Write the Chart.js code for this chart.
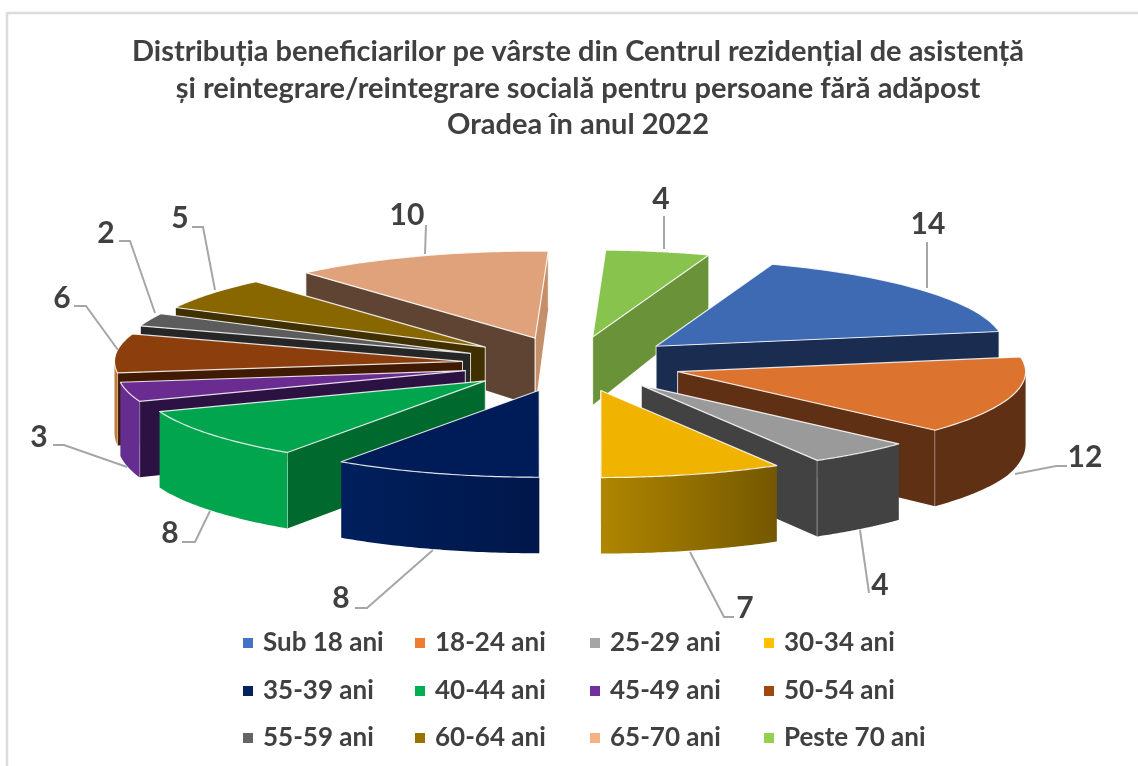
<!DOCTYPE html>
<html><head><meta charset="utf-8">
<style>html,body{margin:0;padding:0;background:#fff}#w{width:1138px;height:766px;position:relative}</style>
<script src="https://cdn.jsdelivr.net/npm/chart.js@4"></script></head>
<body><div id="w"><canvas id="c" width="1138" height="766"></canvas></div>
<script>
const categories=['Sub 18 ani','18-24 ani','25-29 ani','30-34 ani','35-39 ani','40-44 ani','45-49 ani','50-54 ani','55-59 ani','60-64 ani','65-70 ani','Peste 70 ani'];
const values=[14,12,4,7,8,8,3,6,2,5,10,4];
const titleLines=['Distribuția beneficiarilor pe vârste din Centrul rezidențial de asistență','și reintegrare/reintegrare socială pentru persoane fără adăpost','Oradea în anul 2022'];
const topColors=['#3E6AB3','#DC742F','#9A9A9A','#EFB300','#001C58','#00A54E','#6A2C91','#8C3F0D','#5C5C5C','#886600','#E0A27A','#88C34D'];
const legendColors=['#4472C4','#ED7D31','#A5A5A5','#FFC000','#002060','#00B050','#7030A0','#9E480E','#636363','#997300','#F4B183','#92D050'];
const startFace=['#1A2C50','#5F3014','#424242','#424242','#001C58','#006A2E','#2C1143','#401A02','#262626','#403000','#5F4434','#6A9239'];
const endFace=['#1A2C50','#5F3014','#424242','#424242','#001C58','#006A2E','#2C1143','#401A02','#262626','#403000','#C58F69','#6A9239'];
const rimLeft=['#1A2C50','#5F3014','#424242','#B08600','#001F5C','#00A54E','#652D90','#C07A3A','#262626','#403000','#5F4434','#6A9239'];
const rimRight=['#1A2C50','#5F3014','#424242','#745800','#00174A','#00A54E','#652D90','#C07A3A','#262626','#403000','#5F4434','#6A9239'];
// label layout: number position + leader polyline, same order as categories
const labelLayout=[
 {t:[928,224],l:[[927,242],[927,288]]},
 {t:[1085,457],l:[[1067,466],[1056,466],[1015,474]]},
 {t:[880,585],l:[[869,593],[860,530]]},
 {t:[745,608],l:[[734,617],[724,617],[690,552]]},
 {t:[341,598],l:[[355,608],[367,608],[433,550]]},
 {t:[170,533],l:[[182,542],[195,542],[210,511]]},
 {t:[39,437],l:[[53,445],[64,445],[127,467]]},
 {t:[62,298],l:[[74,306],[86,306],[118,350]]},
 {t:[106,233],l:[[119,241],[130,241],[155,313]]},
 {t:[180,218],l:[[192,227],[203,227],[215,290]]},
 {t:[407,215],l:[[426,225],[425,254]]},
 {t:[661,199],l:[[664,216],[664,249]]}
];
const CX=572,CY=364,SQ=0.25,R=348,EXPLODE=110;
const legendX=[243,415,590,764],legendY=[643,691,738];
const depthAt=y=>57+19*Math.min(1,Math.max(0,(y-250)/150));
const FONT='Lato, Carlito, sans-serif';

const solidPie={
 id:'solidPie',
 beforeDatasetsDraw(chart){
  const ctx=chart.ctx,arcs=chart.getDatasetMeta(0).data;
  const items=arcs.map((arc,i)=>{
    const p=arc.getProps(['x','y','startAngle','endAngle','outerRadius'],true);
    return {arc,i,...p,mid:(p.startAngle+p.endAngle)/2};
  });
  // back to front: slices nearest the viewer are painted last
  items.sort((a,b)=>Math.sin(a.mid)-Math.sin(b.mid));
  items.forEach(it=>{
    const r=it.outerRadius;
    const ox=Math.cos(it.mid)*EXPLODE,oy=Math.sin(it.mid)*EXPLODE;
    const pt=(ang,rad)=>({x:CX+ox+Math.cos(ang)*rad,y:CY+(oy+Math.sin(ang)*rad)*SQ});
    const tip=pt(0,0);
    const face=(ang,color)=>{
      const e=pt(ang,r);
      ctx.beginPath();
      ctx.moveTo(tip.x,tip.y);ctx.lineTo(e.x,e.y);
      ctx.lineTo(e.x,e.y+depthAt(e.y));ctx.lineTo(tip.x,tip.y+depthAt(tip.y));ctx.closePath();
      ctx.fillStyle=color;ctx.fill();
      ctx.strokeStyle='rgba(255,255,255,.8)';ctx.lineWidth=1;
      ctx.beginPath();ctx.moveTo(tip.x,tip.y);ctx.lineTo(tip.x,tip.y+depthAt(tip.y));
      ctx.moveTo(e.x,e.y);ctx.lineTo(e.x,e.y+depthAt(e.y));ctx.stroke();
    };
    if(Math.cos(it.startAngle)<0)face(it.startAngle,startFace[it.i]);
    if(Math.cos(it.endAngle)>0)face(it.endAngle,endFace[it.i]);
    // rim wall: only the front half of the circle
    let a0=it.startAngle,a1=it.endAngle;
    const tw=Math.PI*2;
    while(a0<-Math.PI/2){a0+=tw;a1+=tw;}
    a0=Math.max(a0,0);a1=Math.min(a1,Math.PI);
    if(a1>a0){
      const n=48,top=[];
      for(let k=0;k<=n;k++)top.push(pt(a0+(a1-a0)*k/n,r));
      ctx.beginPath();
      top.forEach((q,k)=>k?ctx.lineTo(q.x,q.y):ctx.moveTo(q.x,q.y));
      for(let k=n;k>=0;k--)ctx.lineTo(top[k].x,top[k].y+depthAt(top[k].y));
      ctx.closePath();
      const xs=top.map(q=>q.x),g=ctx.createLinearGradient(Math.min(...xs),0,Math.max(...xs),0);
      g.addColorStop(0,rimLeft[it.i]);g.addColorStop(1,rimRight[it.i]);
      ctx.fillStyle=g;ctx.fill();
    }
    // the top surface is the library's own arc element, exploded and squashed into perspective
    ctx.save();
    ctx.translate(CX+ox,CY+oy*SQ);ctx.scale(1,SQ);ctx.translate(-it.x,-it.y);
    it.arc.draw(ctx);
    ctx.restore();
    // white edge
    ctx.beginPath();ctx.moveTo(tip.x,tip.y);
    for(let k=0;k<=48;k++){const q=pt(it.startAngle+(it.endAngle-it.startAngle)*k/48,r);ctx.lineTo(q.x,q.y);}
    ctx.closePath();ctx.strokeStyle='rgba(255,255,255,.85)';ctx.lineWidth=1.2;ctx.lineJoin='round';ctx.stroke();
  });
  return false;
 },
 afterDraw(chart){
  const ctx=chart.ctx;
  ctx.save();
  // frame: top and left edges only are inside the picture
  ctx.strokeStyle='#DCDCDC';ctx.lineWidth=2.5;
  ctx.beginPath();ctx.moveTo(7,775);ctx.lineTo(7,13);ctx.lineTo(1145,13);ctx.stroke();
  // leaders and value labels
  ctx.strokeStyle='#A6A6A6';ctx.lineWidth=2;ctx.lineJoin='miter';
  labelLayout.forEach(L=>{ctx.beginPath();L.l.forEach((p,k)=>k?ctx.lineTo(p[0],p[1]):ctx.moveTo(p[0],p[1]));ctx.stroke();});
  ctx.fillStyle='#404040';ctx.font='bold 30px '+FONT;ctx.textAlign='center';ctx.textBaseline='middle';
  values.forEach((v,i)=>ctx.fillText(String(v),labelLayout[i].t[0],labelLayout[i].t[1]));
  // legend in a 4-column grid
  ctx.font='bold 26px '+FONT;ctx.textAlign='left';
  categories.forEach((c,i)=>{
    const x=legendX[i%4],y=legendY[Math.floor(i/4)];
    ctx.fillStyle=legendColors[i];ctx.fillRect(x,y-5,10,10);
    ctx.fillStyle='#404040';ctx.fillText(c,x+20,y);
  });
  ctx.restore();
 }
};

new Chart(document.getElementById('c'),{
 type:'pie',
 data:{labels:categories,datasets:[{data:values,backgroundColor:topColors,borderWidth:0}]},
 options:{
  responsive:false,animation:false,rotation:19.5,radius:R,
  layout:{padding:{left:18,top:0,right:0,bottom:0}},
  plugins:{
   legend:{display:false},tooltip:{enabled:false},
   title:{display:true,text:titleLines,color:'#404040',font:{family:FONT,size:29,weight:'bold',lineHeight:1.25},padding:{top:34,bottom:0}}
  }
 },
 plugins:[solidPie]
});
</script></body></html>
